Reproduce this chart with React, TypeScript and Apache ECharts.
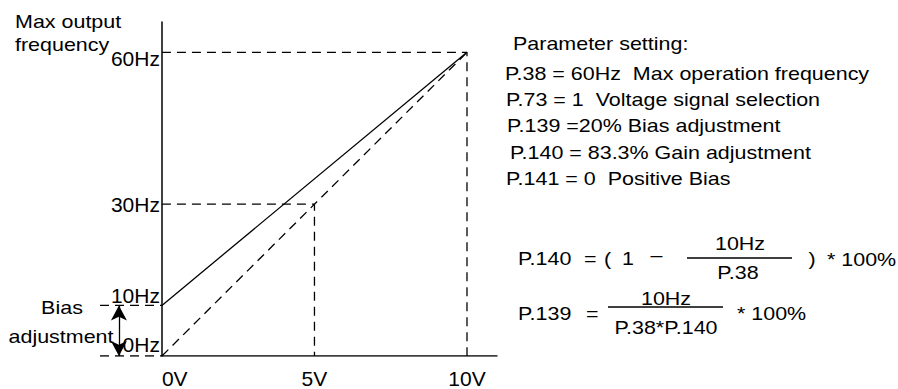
import React, { useEffect, useRef } from "react";
import * as echarts from "echarts";

// ---- data ----
const voltTicks = [0, 5, 10];
const freqValues = [60, 30, 10, 0];
const freqLabels = ["60Hz", "30Hz", "10Hz", "0Hz"];
const freqLabelOffsetY = [6, 0, -10, -12];
const gainLineV = [0, 10];
const gainLineHz = [10, 60];
const refLineV = [0, 10];
const refLineHz = [0, 60];
const maxV = 10;
const maxHz = 60;
const midV = 5;
const midHz = 30;
const biasHz = 10;
const axisMaxV = 11;
const axisMaxHz = 66;
const leftV = -2.03;
const arrowV = -1.41;
const paramLines = [
  "Parameter setting:",
  "P.38 = 60Hz  Max operation frequency",
  "P.73 = 1  Voltage signal selection",
  "P.139 =20% Bias adjustment",
  "P.140 = 83.3% Gain adjustment",
  "P.141 = 0  Positive Bias",
];

const FONT = "'Liberation Sans', Arial, Helvetica, sans-serif";
const INK = "#000";

function T(text: string, x: number, y: number, align: string = "left", size = 19) {
  return {
    type: "text",
    x,
    y,
    scaleX: 1.13,
    silent: true,
    style: {
      text,
      fontSize: size,
      fontFamily: FONT,
      fill: INK,
      textAlign: align,
      textVerticalAlign: "middle",
    },
  };
}

function L(x1: number, y1: number, x2: number, y2: number) {
  return {
    type: "line",
    silent: true,
    shape: { x1, y1, x2, y2 },
    style: { stroke: INK, lineWidth: 1.3 },
  };
}

export default function App() {
  const ref = useRef<HTMLDivElement>(null);
  useEffect(() => {
    if (!ref.current) return;
    const chart = echarts.init(ref.current, undefined, { renderer: "svg" });
    const dashed = { color: "#000", width: 1.3, type: [9, 6] as any };
    const solid = { color: "#000", width: 1.3 };
    const paramX = [513, 505, 506, 507, 510, 506];
    const paramY = [43, 73, 99, 125, 152, 178];
    chart.setOption({
      animation: false,
      grid: { left: 100, right: 400.5, top: 22, bottom: 30 },
      xAxis: {
        type: "value",
        min: leftV,
        max: axisMaxV,
        axisLine: { show: false },
        axisTick: { show: false },
        splitLine: { show: false },
        axisLabel: {
          customValues: voltTicks,
          formatter: (v: number) => v + "V",
          fontSize: 21,
          fontFamily: FONT,
          color: INK,
          margin: 12,
          alignMinLabel: "left",
          showMinLabel: true,
          showMaxLabel: true,
        },
      },
      yAxis: {
        type: "value",
        min: 0,
        max: axisMaxHz,
        axisLine: { show: true, onZero: true, lineStyle: { color: "#000", width: 1.5 } },
        axisTick: { show: false },
        splitLine: { show: false },
        axisLabel: { show: false },
      },
      series: [
        {
          type: "line",
          data: gainLineV.map((v, i) => [v, gainLineHz[i]]),
          symbol: "none",
          lineStyle: solid,
        },
        {
          type: "line",
          data: refLineV.map((v, i) => [v, refLineHz[i]]),
          symbol: "none",
          lineStyle: dashed,
        },
        {
          type: "line",
          data: [[0, maxHz], [maxV, maxHz], [maxV, 0]],
          symbol: "none",
          lineStyle: dashed,
        },
        {
          type: "line",
          data: [[0, midHz], [midV, midHz], [midV, 0]],
          symbol: "none",
          lineStyle: dashed,
        },
        {
          type: "line",
          data: [[leftV, biasHz], [0, biasHz]],
          symbol: "none",
          lineStyle: dashed,
        },
        {
          type: "line",
          data: [[leftV, 0], [0, 0]],
          symbol: "none",
          lineStyle: dashed,
        },
        {
          type: "line",
          data: [[0, 0], [axisMaxV, 0]],
          symbol: "none",
          lineStyle: { color: "#000", width: 1.5 },
          markLine: {
            silent: true,
            symbol: ["arrow", "arrow"],
            symbolSize: [12, 15],
            label: { show: false },
            lineStyle: { color: "#000", width: 1.3, type: "solid" },
            data: [[{ coord: [arrowV, biasHz] }, { coord: [arrowV, 0] }]],
          },
        },
        {
          type: "scatter",
          symbolSize: 0,
          itemStyle: { opacity: 1 },
          data: freqValues.map((f, i) => ({
            value: [0, f],
            label: {
              show: true,
              position: "left",
              distance: 2,
              offset: [0, freqLabelOffsetY[i]],
              formatter: freqLabels[i],
              fontSize: 21,
              fontFamily: FONT,
              color: INK,
              opacity: 1,
            },
          })),
        },
      ],
      graphic: [
        T("Max output", 15, 21),
        T("frequency", 15, 44),
        T("Bias", 62, 307, "center"),
        T("adjustment", 61, 336, "center"),
        ...paramLines.map((s, i) => T(s, paramX[i], paramY[i])),
        T("P.140", 518, 258),
        T("=", 584, 258),
        T("(", 604, 258),
        T("1", 622, 258),
        T("–", 656.5, 254, "center"),
        T("10Hz", 740, 243, "center"),
        L(687, 258, 792, 258),
        T("P.38", 738, 272, "center"),
        T(")", 812, 258, "center"),
        T("* 100%", 827, 259),
        T("P.139", 518, 313),
        T("=", 586, 313),
        T("10Hz", 666, 298, "center"),
        L(608, 307, 723, 307),
        T("P.38*P.140", 666, 327, "center"),
        T("* 100%", 737, 313),
      ],
    });
    return () => chart.dispose();
  }, []);
  return (
    <div
      ref={ref}
      style={{ position: "fixed", left: 0, top: 0, width: 898, height: 389, background: "#fff" }}
    />
  );
}
